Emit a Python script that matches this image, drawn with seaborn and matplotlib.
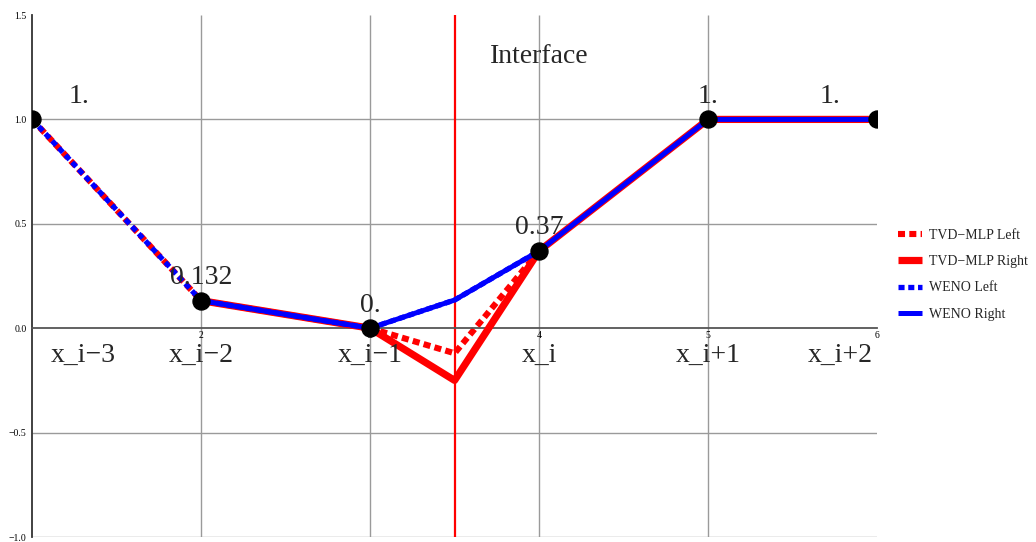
import numpy as np
import pandas as pd
import matplotlib
matplotlib.use("Agg")
import matplotlib.pyplot as plt
from matplotlib.ticker import MultipleLocator, FixedLocator
import seaborn as sns

# Cell nodes and the reconstructed values at the interface x = 3.5
node_x = [1, 2, 3, 4, 5, 6]
node_y = [1.0, 0.132, 0.0, 0.37, 1.0, 1.0]
node_text = ["1.", "0.132", "0.", "0.37", "1.", "1."]
cell_names = ["x_i\u22123", "x_i\u22122", "x_i\u22121", "x_i", "x_i+1", "x_i+2"]

interface_x = 3.5

left_x = [1, 2, 3, 3.5, 4]
right_x = [2, 3, 3.5, 4, 5, 6]
tvd_left = [1.0, 0.132, 0.0, -0.12, 0.37]
tvd_right = [0.132, 0.0, -0.25, 0.37, 1.0, 1.0]
weno_left = [1.0, 0.132, 0.0, 0.135, 0.37]
weno_right = [0.132, 0.0, 0.135, 0.37, 1.0, 1.0]

y_ticks = [-1.0, -0.5, 0.0, 0.5, 1.0, 1.5]
y_tick_labels = ["\u22121.0", "\u22120.5", "0.0", "0.5", "1.0", "1.5"]
x_ticks = [2, 3, 4, 5, 6]

sns.set_style("white")
plt.rcParams["font.family"] = ["Liberation Serif", "DejaVu Serif"]
plt.rcParams["axes.unicode_minus"] = True
plt.rcParams["lines.solid_capstyle"] = "butt"

fig = plt.figure(figsize=(10.36, 5.42), dpi=100)
ax = fig.add_axes([0.031, 0.0092, 0.8156, 0.9631])
ax.set_xlim(1, 6)
ax.set_ylim(-1.0, 1.5)

# grid
for gx in [2, 3, 4, 5]:
    ax.axvline(gx, color="#9a9a9a", lw=1.0, zorder=0)
for gy in [-1.0, -0.5, 0.5, 1.0]:
    ax.axhline(gy, color="#9a9a9a", lw=1.0, zorder=0)

# interface marker
ax.axvline(interface_x, color="red", lw=1.6, zorder=1)

dash = (0, (1.15, 0.7))
sns.lineplot(x=left_x, y=tvd_left, color="red", lw=4.4, linestyle=dash,
             sort=False, estimator=None, ax=ax, label="TVD\u2212MLP Left", zorder=2)
sns.lineplot(x=right_x, y=tvd_right, color="red", lw=5.2, sort=False,
             estimator=None, ax=ax, label="TVD\u2212MLP Right", zorder=3)
sns.lineplot(x=left_x, y=weno_left, color="blue", lw=3.8, linestyle=dash,
             sort=False, estimator=None, ax=ax, label="WENO Left", zorder=4)
sns.lineplot(x=right_x, y=weno_right, color="blue", lw=3.6, sort=False,
             estimator=None, ax=ax, label="WENO Right", zorder=5)

sns.scatterplot(x=node_x, y=node_y, color="black", s=150, edgecolor="black",
                ax=ax, zorder=6, legend=False)

# value labels above nodes and cell names below the axis
label_x = np.clip(np.array(node_x, dtype=float), 1.28, 5.72)
name_x = np.clip(np.array(node_x, dtype=float), 1.3, 5.78)
for lx, ny, t in zip(label_x, node_y, node_text):
    ax.text(lx, ny + 0.11, t, ha="center", va="center", fontsize=20, zorder=7)
for nx, t in zip(name_x, cell_names):
    ax.text(nx, -0.13, t, ha="center", va="center", fontsize=20, zorder=7)

ax.text(4.0, 1.30, "Interface", ha="center", va="center", fontsize=20)

# axes in the crossing style: x-axis along y = 0, y-axis at the left edge
for s in ["top", "right"]:
    ax.spines[s].set_visible(False)
ax.spines["bottom"].set_position(("data", 0))
ax.spines["bottom"].set_color("#555555")
ax.spines["left"].set_color("#333333")
ax.spines["bottom"].set_linewidth(1.3)
ax.spines["left"].set_linewidth(1.3)

ax.xaxis.set_major_locator(FixedLocator(x_ticks))
ax.xaxis.set_minor_locator(MultipleLocator(0.2))
ax.set_xticklabels([str(v) for v in x_ticks])
ax.yaxis.set_major_locator(FixedLocator(y_ticks))
ax.yaxis.set_minor_locator(MultipleLocator(0.1))
ax.set_yticklabels(y_tick_labels)
ax.tick_params(axis="both", which="both", direction="in", colors="#333333",
               labelsize=7, labelcolor="black")
ax.tick_params(axis="both", which="major", length=5, width=1)
ax.tick_params(axis="both", which="minor", length=3, width=0.8)
ax.tick_params(axis="x", pad=2)
ax.tick_params(axis="y", pad=4)
ax.set_xlabel("")
ax.set_ylabel("")

handles, labels = ax.get_legend_handles_labels()
ax.get_legend().remove()
fig.legend(handles, labels, loc="center left", bbox_to_anchor=(0.855, 0.493),
           frameon=False, fontsize=10, handlelength=1.7, handletextpad=0.5,
           labelspacing=0.95)

fig.savefig("out.png", dpi=100)
